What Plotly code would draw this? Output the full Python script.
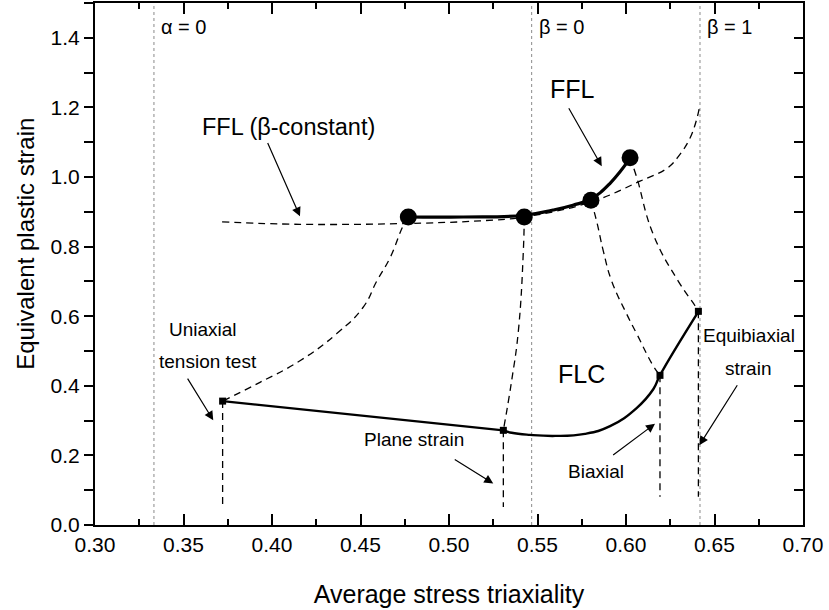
import plotly.graph_objects as go

# ---------------- data ----------------
# FFL (solid thick line with big dots)
ffl_curve_x = [0.477, 0.508, 0.5425, 0.5588, 0.570, 0.5802, 0.591, 0.6023]
ffl_curve_y = [0.885, 0.885, 0.890, 0.905, 0.919, 0.937, 0.982, 1.054]
ffl_dots_x = [0.477, 0.5425, 0.5802, 0.6023]
ffl_dots_y = [0.885, 0.885, 0.933, 1.055]

# FFL (beta-constant), dashed
bconst_x = [0.3718, 0.4158, 0.4723, 0.5175, 0.5424, 0.5802, 0.6079, 0.6232, 0.6305, 0.6362, 0.6401, 0.6418]
bconst_y = [0.871, 0.864, 0.866, 0.874, 0.885, 0.928, 0.988, 1.025, 1.065, 1.112, 1.169, 1.209]

# FLC (solid line with small squares)
flc_pts_x = [0.3721, 0.5307, 0.6192, 0.6409]
flc_pts_y = [0.356, 0.272, 0.430, 0.614]
flc_curve_x = [0.5307, 0.5354, 0.5458, 0.5600, 0.5768, 0.5910, 0.6060, 0.6154, 0.6192, 0.6409]
flc_curve_y = [0.272, 0.265, 0.259, 0.256, 0.262, 0.284, 0.336, 0.390, 0.430, 0.613]
drop_end_y = [0.052, 0.052, 0.081, 0.081]

# dashed strain paths linking FFL and FLC points
path1_x = [0.477, 0.4740, 0.4667, 0.4592, 0.4514, 0.4366, 0.4158, 0.3932, 0.3721]
path1_y = [0.885, 0.859, 0.768, 0.701, 0.625, 0.550, 0.472, 0.410, 0.356]
path2_x = [0.5425, 0.5420, 0.5392, 0.5354, 0.5307]
path2_y = [0.885, 0.787, 0.558, 0.415, 0.272]
path3_x = [0.5802, 0.5834, 0.5872, 0.5919, 0.6004, 0.6060, 0.6153, 0.6192]
path3_y = [0.933, 0.873, 0.787, 0.701, 0.606, 0.550, 0.458, 0.430]
path4_x = [0.6023, 0.6060, 0.6154, 0.6295, 0.6390, 0.6409]
path4_y = [1.055, 1.000, 0.835, 0.701, 0.630, 0.614]

# reference vertical lines
ref_x = [0.3333, 0.5467, 0.6418]
ref_labels = ["\u03b1 = 0", "\u03b2 = 0", "\u03b2 = 1"]

x_range = [0.30, 0.70]
y_range = [0.0, 1.5]
x_ticks = [0.30, 0.35, 0.40, 0.45, 0.50, 0.55, 0.60, 0.65, 0.70]
y_ticks = [0.0, 0.2, 0.4, 0.6, 0.8, 1.0, 1.2, 1.4]

FONT = "Liberation Sans, Arial, sans-serif"

fig = go.Figure()

# dotted reference lines
for xv in ref_x:
    fig.add_trace(go.Scatter(x=[xv, xv], y=y_range, mode="lines",
                             line=dict(color="#8a8a8a", width=1, dash="dot"),
                             showlegend=False, hoverinfo="skip"))

dash_style = dict(color="black", width=1.3, dash="7px,5px")

# beta-constant FFL
fig.add_trace(go.Scatter(x=bconst_x, y=bconst_y, mode="lines",
                         line=dict(shape="spline", smoothing=1.1, **dash_style),
                         showlegend=False))

# strain paths
for px, py in [(path1_x, path1_y), (path2_x, path2_y), (path3_x, path3_y), (path4_x, path4_y)]:
    fig.add_trace(go.Scatter(x=px, y=py, mode="lines",
                             line=dict(shape="spline", smoothing=1.3, **dash_style),
                             showlegend=False))

# vertical drops from FLC points
for xv, yv, ye in zip(flc_pts_x, flc_pts_y, drop_end_y):
    fig.add_trace(go.Scatter(x=[xv, xv], y=[yv, ye], mode="lines",
                             line=dict(color="black", width=1.3, dash="7px,5px"),
                             showlegend=False))

# FLC solid
fig.add_trace(go.Scatter(x=flc_pts_x[:2], y=flc_pts_y[:2], mode="lines",
                         line=dict(color="black", width=2.4), showlegend=False))
fig.add_trace(go.Scatter(x=flc_curve_x, y=flc_curve_y, mode="lines",
                         line=dict(color="black", width=2.4, shape="spline", smoothing=1.3),
                         showlegend=False))
fig.add_trace(go.Scatter(x=flc_pts_x, y=flc_pts_y, mode="markers",
                         marker=dict(symbol="square", size=7, color="black"),
                         showlegend=False))

# FFL solid
fig.add_trace(go.Scatter(x=ffl_curve_x, y=ffl_curve_y, mode="lines",
                         line=dict(color="black", width=3.2, shape="spline", smoothing=1.3),
                         showlegend=False))
fig.add_trace(go.Scatter(x=ffl_dots_x, y=ffl_dots_y, mode="markers",
                         marker=dict(symbol="circle", size=17, color="black"),
                         showlegend=False))

# invisible trace on the right-hand y axis for inside ticks
fig.add_trace(go.Scatter(x=[x_range[0]], y=[y_range[0]], yaxis="y2", mode="markers",
                         marker=dict(opacity=0), showlegend=False, hoverinfo="skip"))

annotations = []
def label(x, y, text, size):
    annotations.append(dict(x=x, y=y, xref="x", yref="y", text=text, showarrow=False,
                            font=dict(size=size, color="black", family=FONT)))

def arrow(x, y, ax, ay):
    annotations.append(dict(x=x, y=y, ax=ax, ay=ay, xref="x", yref="y", axref="x", ayref="y",
                            text="", showarrow=True, arrowhead=2, arrowsize=1.5,
                            arrowwidth=1.2, arrowcolor="black", standoff=0, startstandoff=0))

for xv, t in zip(ref_x, ref_labels):
    label(xv + 0.0168, 1.43, t, 20)

label(0.5695, 1.254, "FFL", 25)
arrow(0.5863, 1.031, 0.5672, 1.202)
label(0.4096, 1.145, "FFL (\u03b2-constant)", 23.5)
arrow(0.4158, 0.887, 0.3972, 1.102)
label(0.5746, 0.435, "FLC", 25)
label(0.3610, 0.561, "Uniaxial", 19)
label(0.3641, 0.470, "tension test", 19)
arrow(0.3668, 0.301, 0.3518, 0.425)
label(0.4802, 0.245, "Plane strain", 19)
arrow(0.5250, 0.119, 0.5024, 0.191)
label(0.5833, 0.153, "Biaxial", 19)
arrow(0.6164, 0.291, 0.5919, 0.198)
label(0.6695, 0.544, "Equibiaxial", 19)
label(0.6691, 0.451, "strain", 19)
arrow(0.6414, 0.229, 0.6634, 0.406)

# y axis title as annotation
annotations.append(dict(x=-0.098, y=0.538, xref="paper", yref="paper", xanchor="center", yanchor="middle",
                        text="Equivalent plastic strain",
                        textangle=-90, showarrow=False, font=dict(size=24, color="black", family=FONT)))

fig.update_layout(
    width=829, height=610,
    margin=dict(l=95, r=26, t=1, b=85),
    paper_bgcolor="white", plot_bgcolor="white",
    font=dict(family=FONT, color="black"),
    showlegend=False,
    annotations=annotations,
    xaxis=dict(range=x_range, tickvals=x_ticks, ticktext=[f"{v:.2f}" for v in x_ticks],
               ticks="inside", ticklen=11, tickwidth=1.5, tickcolor="black",
               minor=dict(ticks="inside", ticklen=6, tickwidth=1.5, tickcolor="black", dtick=0.025),
               showline=True, linecolor="black", linewidth=2, mirror="ticks",
               showgrid=False, zeroline=False, tickfont=dict(size=21),
               title=dict(text="Average stress triaxiality", font=dict(size=25), standoff=30)),
    yaxis=dict(range=y_range, tickvals=y_ticks, ticktext=[f"{v:.1f}" for v in y_ticks],
               ticks="outside", ticklen=9, tickwidth=1.5, tickcolor="black",
               minor=dict(ticks="outside", ticklen=9, tickwidth=1.5, tickcolor="black", dtick=0.1),
               showline=True, linecolor="black", linewidth=2, mirror=True,
               showgrid=False, zeroline=False, tickfont=dict(size=21)),
    yaxis2=dict(range=y_range, overlaying="y", side="right", dtick=0.1, tick0=0,
                ticks="inside", ticklen=9, tickwidth=1.5, tickcolor="black",
                showticklabels=False, showgrid=False, zeroline=False, showline=False),
)

fig.write_html("out.html")
